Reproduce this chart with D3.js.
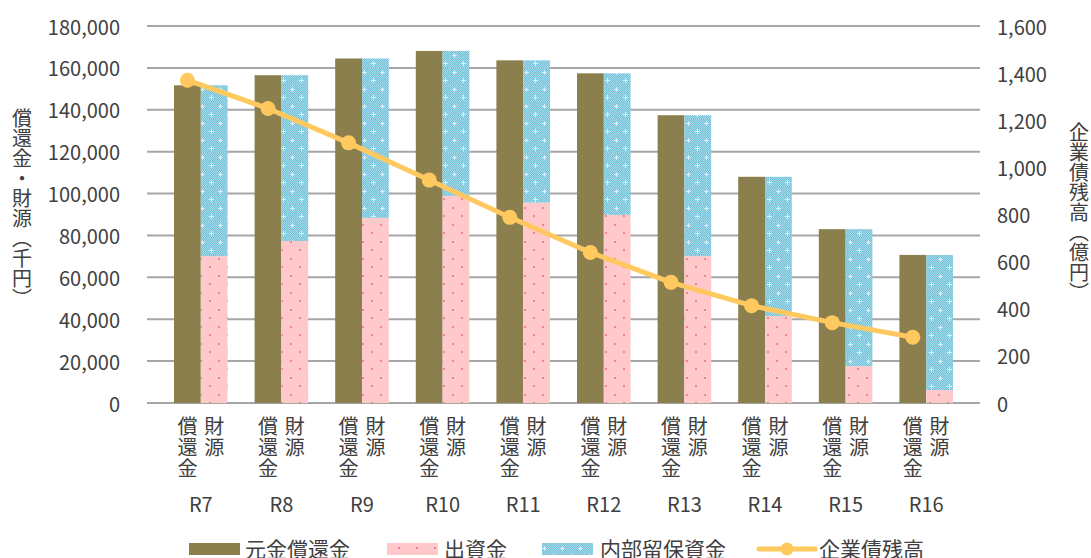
<!DOCTYPE html>
<html lang="ja">
<head>
<meta charset="utf-8">
<script src="https://cdn.jsdelivr.net/npm/d3@7"></script>
<style>
  html, body { margin: 0; padding: 0; background: #fff; }
  #chart { width: 1091px; height: 558px; }
</style>
</head>
<body>
<div id="chart"></div>
<script>
// ── data ────────────────────────────────────────────────────────────────────
const categories = ['R7', 'R8', 'R9', 'R10', 'R11', 'R12', 'R13', 'R14', 'R15', 'R16'];
const principal = [151700, 156500, 164500, 168100, 163600, 157400, 137400, 108000, 83000, 70700]; // 元金償還金
const capital = [70100, 77300, 88400, 98900, 95700, 89800, 70100, 41500, 17600, 6200]; // 出資金
const reserves = [81600, 79200, 76100, 69200, 67900, 67600, 67300, 66500, 65400, 64500]; // 内部留保資金
const bondBalance = [1370, 1250, 1104, 946, 788, 639, 512, 413, 341, 279]; // 企業債残高 (億円)
const leftTicks = [0, 20000, 40000, 60000, 80000, 100000, 120000, 140000, 160000, 180000];
const rightTicks = [0, 200, 400, 600, 800, 1000, 1200, 1400, 1600];
const barLabels = ['償還金', '財源'];

const W = 1091;
const H = 558;
const FONT = '"Noto Sans CJK JP", "Noto Sans", sans-serif';
const TEXT = '#404040';
const OLIVE = '#8a7f4d';
const LINE = '#ffc95f';
const GRID = '#a6a6a6';

const plot = { left: 147, right: 980, top: 26, bottom: 403 };

const svg = d3.select('#chart').append('svg').attr('width', W).attr('height', H);

// ── fill patterns ───────────────────────────────────────────────────────────
const defs = svg.append('defs');

const pink = defs.append('pattern')
  .attr('id', 'pinkDots')
  .attr('patternUnits', 'userSpaceOnUse')
  .attr('width', 18)
  .attr('height', 17);
pink.append('rect').attr('width', 18).attr('height', 17).attr('fill', '#ffc8ca');
pink.append('rect').attr('x', 2).attr('y', 3).attr('width', 2).attr('height', 2).attr('fill', '#f3848c');
pink.append('rect').attr('x', 11).attr('y', 11).attr('width', 2).attr('height', 2).attr('fill', '#f3848c');

const chk = defs.append('pattern')
  .attr('id', 'blueChk')
  .attr('patternUnits', 'userSpaceOnUse')
  .attr('width', 2)
  .attr('height', 2);
chk.append('rect').attr('width', 2).attr('height', 2).attr('fill', '#74c2d9');
chk.append('rect').attr('width', 1).attr('height', 1).attr('fill', '#a3d8e8');
chk.append('rect').attr('x', 1).attr('y', 1).attr('width', 1).attr('height', 1).attr('fill', '#a3d8e8');

const blue = defs.append('pattern')
  .attr('id', 'blueSpark')
  .attr('patternUnits', 'userSpaceOnUse')
  .attr('width', 18)
  .attr('height', 17);
blue.append('rect').attr('width', 18).attr('height', 17).attr('fill', 'url(#blueChk)');
[[4, 4], [13, 12]].forEach(([cx, cy]) => {
  blue.append('rect').attr('x', cx - 2).attr('y', cy).attr('width', 5).attr('height', 1).attr('fill', '#d8f0f7');
  blue.append('rect').attr('x', cx).attr('y', cy - 2).attr('width', 1).attr('height', 5).attr('fill', '#d8f0f7');
});

// ── scales ──────────────────────────────────────────────────────────────────
const x = d3.scaleBand().domain(categories).range([plot.left, plot.right]).padding(0.335);
const y = d3.scaleLinear().domain([0, 180000]).range([plot.bottom, plot.top]);
const y2 = d3.scaleLinear().domain([0, 1600]).range([plot.bottom, plot.top]);
const half = x.bandwidth() / 2;

// ── gridlines + tick labels ─────────────────────────────────────────────────
leftTicks.forEach((t) => {
  svg.append('line')
    .attr('x1', plot.left)
    .attr('x2', plot.right)
    .attr('y1', y(t))
    .attr('y2', y(t))
    .attr('stroke', GRID)
    .attr('stroke-width', 2);

  svg.append('text')
    .attr('x', 120)
    .attr('y', y(t))
    .attr('text-anchor', 'end')
    .attr('dominant-baseline', 'central')
    .attr('font-size', '20px')
    .attr('fill', TEXT)
    .attr('font-family', FONT)
    .text(d3.format(',')(t));
});

rightTicks.forEach((t) => {
  svg.append('text')
    .attr('x', 997)
    .attr('y', y2(t))
    .attr('text-anchor', 'start')
    .attr('dominant-baseline', 'central')
    .attr('font-size', '20px')
    .attr('fill', TEXT)
    .attr('font-family', FONT)
    .text(d3.format(',')(t));
});

// vertical text helper (top-anchored or centred)
const vText = (cx, cy, str, anchor) =>
  svg.append('text')
    .attr('x', cx)
    .attr('y', cy)
    .attr('text-anchor', anchor)
    .style('writing-mode', 'vertical-rl')
    .style('letter-spacing', '1px')
    .attr('font-size', '20px')
    .attr('fill', TEXT)
    .attr('font-family', FONT)
    .text(str);

// ── bars ────────────────────────────────────────────────────────────────────
categories.forEach((c, i) => {
  const x0 = x(c);

  svg.append('rect')
    .attr('x', x0)
    .attr('y', y(principal[i]))
    .attr('width', half)
    .attr('height', y(0) - y(principal[i]))
    .attr('fill', OLIVE);

  svg.append('rect')
    .attr('x', x0 + half)
    .attr('y', y(capital[i]))
    .attr('width', half)
    .attr('height', y(0) - y(capital[i]))
    .attr('fill', 'url(#pinkDots)');

  svg.append('rect')
    .attr('x', x0 + half)
    .attr('y', y(capital[i] + reserves[i]))
    .attr('width', half)
    .attr('height', y(capital[i]) - y(capital[i] + reserves[i]))
    .attr('fill', 'url(#blueSpark)');

  // stacked labels under each bar
  barLabels.forEach((lab, j) => vText(x0 + half * j + half / 2, 416, lab, 'start'));

  svg.append('text')
    .attr('x', x0 + half)
    .attr('y', 512)
    .attr('text-anchor', 'middle')
    .attr('font-size', '20px')
    .attr('fill', TEXT)
    .attr('font-family', FONT)
    .text(c);
});

// ── bond balance line (secondary axis) ──────────────────────────────────────
const lineX = (c) => x(c) + half / 2;

svg.append('path')
  .datum(bondBalance)
  .attr('d', d3.line().x((d, i) => lineX(categories[i])).y((d) => y2(d)))
  .attr('fill', 'none')
  .attr('stroke', LINE)
  .attr('stroke-width', 5)
  .attr('stroke-linejoin', 'round');

bondBalance.forEach((d, i) => {
  svg.append('circle')
    .attr('cx', lineX(categories[i]))
    .attr('cy', y2(d))
    .attr('r', 7.5)
    .attr('fill', LINE);
});

// ── axis titles (vertical) ──────────────────────────────────────────────────
vText(22, 208, '償還金・財源（千円）', 'middle').style('letter-spacing', null);
vText(1079, 212, '企業債残高（億円）', 'middle').style('letter-spacing', null);

// ── legend ──────────────────────────────────────────────────────────────────
const legendY = 549;
const legend = [
  { name: '元金償還金', fill: OLIVE, sx: 189, tx: 245 },
  { name: '出資金', fill: 'url(#pinkDots)', sx: 387, tx: 444 },
  { name: '内部留保資金', fill: 'url(#blueSpark)', sx: 542, tx: 600 },
  { name: '企業債残高', line: true, sx: 759, tx: 819 },
];

legend.forEach((d) => {
  if (d.line) {
    svg.append('line')
      .attr('x1', d.sx)
      .attr('x2', d.sx + 56)
      .attr('y1', legendY)
      .attr('y2', legendY)
      .attr('stroke', LINE)
      .attr('stroke-width', 5)
      .attr('stroke-linecap', 'round');
    svg.append('circle').attr('cx', d.sx + 28).attr('cy', legendY).attr('r', 6.5).attr('fill', LINE);
  } else {
    svg.append('rect')
      .attr('x', d.sx)
      .attr('y', legendY - 6)
      .attr('width', 51)
      .attr('height', 12)
      .attr('fill', d.fill);
  }

  svg.append('text')
    .attr('x', d.tx)
    .attr('y', legendY + 8)
    .attr('font-size', '21px')
    .attr('fill', TEXT)
    .attr('font-family', FONT)
    .text(d.name);
});
</script>
</body>
</html>
